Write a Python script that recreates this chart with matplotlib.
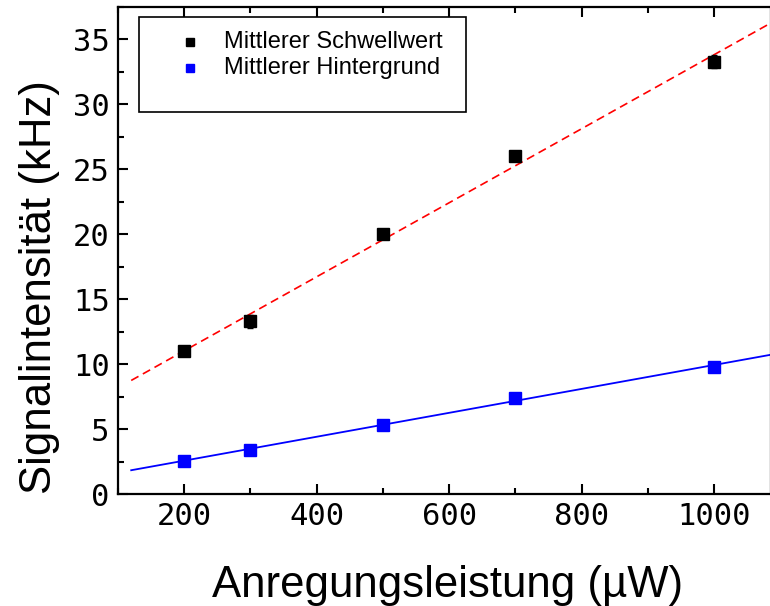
import matplotlib
matplotlib.use("Agg")
import matplotlib.pyplot as plt
import numpy as np
from matplotlib.patches import Rectangle
from matplotlib.ticker import MultipleLocator

# Anregungsleistung in µW
leistung = np.array([200, 300, 500, 700, 1000])
# Mittlerer Schwellwert und Hintergrund in kHz
schwellwert = np.array([11.0, 13.3, 20.0, 26.0, 33.3])
schwellwert_err = np.array([0.2, 0.5, 0.2, 0.2, 0.5])
hintergrund = np.array([2.55, 3.4, 5.35, 7.4, 9.8])
hintergrund_err = np.array([0.1, 0.1, 0.1, 0.1, 0.1])

labels = ["Mittlerer Schwellwert", "Mittlerer Hintergrund"]
farben = ["black", "blue"]

fig = plt.figure(figsize=(7.7, 6.06), dpi=100)
ax = fig.add_axes([0.1532, 0.1848, 0.8475, 0.8036])

# lineare Fits
x_fit = np.linspace(120, 1100, 2)
p_s = np.polyfit(leistung, schwellwert, 1)
p_h = np.polyfit(leistung, hintergrund, 1)
ax.plot(x_fit, np.polyval(p_s, x_fit), color="red", ls=(0, (5, 3)), lw=1.2, zorder=2)
ax.plot(x_fit, np.polyval(p_h, x_fit), color="blue", lw=1.3, zorder=2)

ax.errorbar(leistung, schwellwert, yerr=schwellwert_err, fmt="s", color=farben[0],
            ms=8, capsize=2.5, elinewidth=1, zorder=3)
ax.errorbar(leistung, hintergrund, yerr=hintergrund_err, fmt="s", color=farben[1],
            ms=8, capsize=2.5, elinewidth=1, zorder=3)

ax.set_xlim(100, 1085)
ax.set_ylim(0, 37.5)
ax.xaxis.set_major_locator(MultipleLocator(200))
ax.xaxis.set_minor_locator(MultipleLocator(100))
ax.yaxis.set_major_locator(MultipleLocator(5))
ax.yaxis.set_minor_locator(MultipleLocator(2.5))
ax.tick_params(which="both", direction="in", top=True, right=False, width=1.5)
ax.tick_params(which="major", length=7)
ax.tick_params(which="minor", length=4)
for lab in ax.get_xticklabels() + ax.get_yticklabels():
    lab.set_family("DejaVu Sans Mono")
    lab.set_fontsize(22)
ax.tick_params(axis="x", pad=6)
ax.tick_params(axis="y", pad=6)
for s in ax.spines.values():
    s.set_linewidth(1.6)

ax.set_xlabel("Anregungsleistung (µW)", family="Liberation Sans", fontsize=31.5)
ax.set_ylabel("Signalintensität (kHz)", family="Liberation Sans", fontsize=31.5)
ax.xaxis.set_label_coords(0.5057, -0.145)
ax.yaxis.set_label_coords(-0.089, 0.425)

# Legende von Hand, mit Leerzeile unten im Rahmen
ax.add_patch(Rectangle((0.032, 0.784), 0.501, 0.1955, transform=ax.transAxes,
                       facecolor="white", edgecolor="black", lw=1.2, zorder=5))
for i, (lab, fc) in enumerate(zip(labels, farben)):
    y = 0.928 - i * 0.0535
    ax.plot([0.1103], [y], marker="s", ms=6, color=fc, ls="none",
            transform=ax.transAxes, zorder=6, clip_on=False)
    ax.text(0.1624, y, lab, transform=ax.transAxes, va="center", ha="left",
            family="Liberation Sans", fontsize=17, zorder=6)

fig.savefig("out.png", dpi=100)
